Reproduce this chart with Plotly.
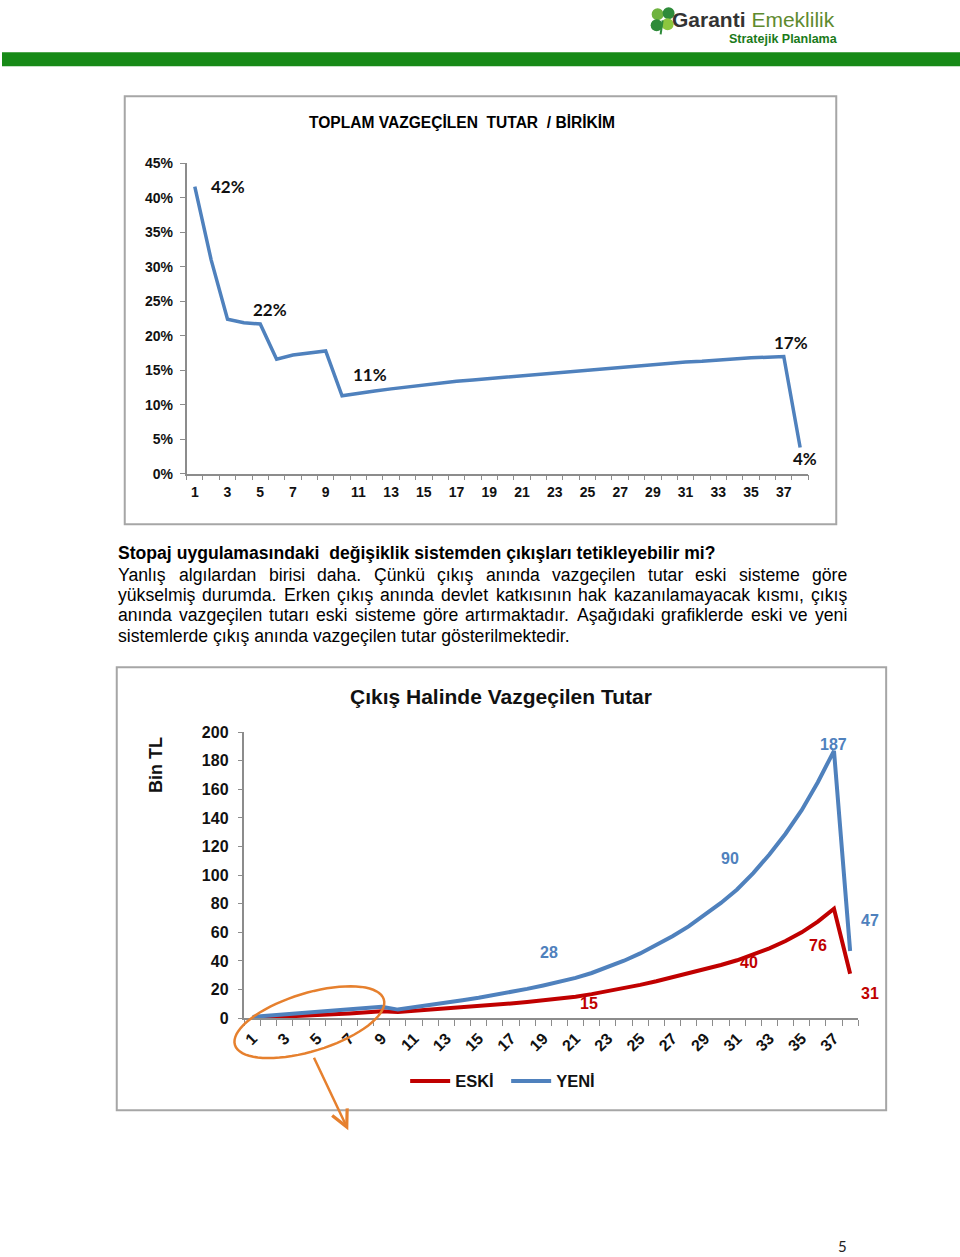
import numpy as np
import plotly.graph_objects as go

W, H = 960, 1257

# ---------------- DATA ----------------
years = list(range(1, 39))

# Chart 1: TOPLAM VAZGEÇİLEN TUTAR / BİRİKİM (percent)
ratio_pct = [41.6, 31.0, 22.4, 21.9, 21.7, 16.6, 17.2, 17.5, 17.8, 11.3,
             11.7, 12.0, 12.3, 12.6, 12.8, 13.1, 13.4, 13.6, 13.8, 14.0,
             14.3, 14.5, 14.7, 14.9, 15.0, 15.3, 15.5, 15.7, 15.9, 16.0,
             16.2, 16.3, 16.5, 16.7, 16.8, 16.9, 17.0, 3.8]
ratio_label_years = [1, 5, 10, 37, 38]
ratio_label_texts = ["42%", "22%", "11%", "17%", "4%"]
y1_tick_values = [0, 5, 10, 15, 20, 25, 30, 35, 40, 45]
x_tick_values = list(range(1, 38, 2))

# Chart 2: Çıkış Halinde Vazgeçilen Tutar (Bin TL)
eski = [0.1, 0.5, 0.9, 1.5, 2.1, 2.7, 3.3, 4.0, 4.9, 4.4,
        5.2, 6.0, 6.6, 7.4, 8.2, 9.2, 10.3, 11.3, 12.3, 13.6,
        15.0, 16.8, 18.8, 21.0, 23.3, 25.8, 28.5, 31.3, 34.2, 37.2,
        40.5, 44.3, 48.8, 54.0, 60.0, 67.5, 76.5, 31.0]
yeni = [0.9, 1.7, 2.6, 3.5, 4.4, 4.9, 5.6, 6.6, 7.9, 6.0,
        7.8, 9.5, 11.0, 12.6, 14.3, 16.2, 18.3, 20.5, 22.9, 25.4,
        28.2, 31.6, 35.6, 40.2, 45.3, 51.0, 57.3, 64.2, 72.0, 80.6,
        90.0, 101.5, 114.5, 129.0, 145.5, 165.0, 187.0, 47.0]
eski_label_years = [21, 31, 37, 38]
eski_label_texts = ["15", "40", "76", "31"]
yeni_label_years = [21, 31, 37, 38]
yeni_label_texts = ["28", "90", "187", "47"]
y2_tick_values = list(range(0, 201, 20))

heading = "Stopaj uygulamasındaki  değişiklik sistemden çıkışları tetikleyebilir mi?"
para_lines = [
    "Yanlış algılardan birisi daha. Çünkü çıkış anında vazgeçilen tutar eski sisteme göre",
    "yükselmiş durumda. Erken çıkış anında devlet katkısının hak kazanılamayacak kısmı, çıkış",
    "anında vazgeçilen tutarı eski sisteme göre artırmaktadır. Aşağıdaki grafiklerde eski ve yeni",
    "sistemlerde çıkış anında vazgeçilen tutar gösterilmektedir.",
]

# ---------------- HELPERS ----------------
# measured capture transform: screen_y = 0.9866 * figure_y + 7.7
SY, OY = 0.9866, 7.7


def px(x):
    return x / W


def py(y):
    return 1 - ((y - OY) / SY) / H


REG = dict(zip(" !%,./?0123456789", [278, 278, 889, 278, 278, 278, 556] + [556] * 10))
REG.update({"A": 667, "B": 667, "C": 722, "Ç": 722, "D": 722, "E": 667, "F": 611, "G": 778,
            "H": 722, "I": 278, "İ": 278, "J": 500, "K": 667, "L": 556, "M": 833, "N": 722,
            "O": 778, "P": 667, "R": 722, "S": 667, "Ş": 667, "T": 611, "U": 722, "V": 667,
            "Y": 667, "Z": 611,
            "a": 556, "b": 556, "c": 500, "ç": 500, "d": 556, "e": 556, "f": 278, "g": 556,
            "ğ": 556, "h": 556, "i": 222, "ı": 278, "j": 222, "k": 500, "l": 222, "m": 833,
            "n": 556, "o": 556, "ö": 556, "p": 556, "r": 333, "s": 500, "ş": 500, "t": 278,
            "u": 556, "ü": 556, "v": 500, "y": 500, "z": 500, "w": 722, "x": 500})
BOLD = dict(REG)
BOLD.update({"?": 611, "A": 722, "B": 722, "K": 722, "L": 611,
             "a": 556, "b": 611, "c": 556, "ç": 556, "d": 611, "e": 556, "f": 333, "g": 611,
             "ğ": 611, "h": 611, "i": 278, "ı": 278, "j": 278, "k": 556, "l": 278, "m": 889,
             "n": 611, "o": 611, "ö": 611, "p": 611, "r": 389, "s": 556, "ş": 556, "t": 333,
             "u": 611, "ü": 611, "v": 556, "y": 556, "z": 500, "w": 778, "x": 556})


def tw(s, size, bold=False):
    t = BOLD if bold else REG
    return sum(t.get(c, 556) for c in s) * size / 1000.0


def fit(s, width, bold=False):
    return width / tw(s, 1000, bold) * 1000


SANS = "Liberation Sans, Arial, sans-serif"
BLUE = "#4F81BD"
RED = "#C00000"
AXIS = "#8C8C8C"
ORANGE = "#E6802E"

fig = go.Figure()

# ---------------- CHART 1 ----------------
fig.add_trace(go.Scatter(x=years, y=ratio_pct, mode="lines", xaxis="x", yaxis="y",
                         line=dict(color=BLUE, width=3.5), showlegend=False, hoverinfo="skip"))

# ---------------- CHART 2 ----------------
fig.add_trace(go.Scatter(x=years, y=eski, mode="lines", name="ESKİ", xaxis="x2", yaxis="y2",
                         line=dict(color=RED, width=4)))
fig.add_trace(go.Scatter(x=years, y=yeni, mode="lines", name="YENİ", xaxis="x2", yaxis="y2",
                         line=dict(color=BLUE, width=4)))

tickfont1 = dict(family=SANS, size=14, color="#111", weight="bold")
tickfont2 = dict(family=SANS, size=16, color="#111", weight="bold")

layout = dict(
    width=W, height=H, margin=dict(l=0, r=0, t=0, b=0),
    paper_bgcolor="white", plot_bgcolor="rgba(0,0,0,0)",
    xaxis=dict(domain=[px(185), px(808)], range=[0.5, 38.5], anchor="y",
               tickmode="array", tickvals=x_tick_values, ticktext=[str(v) for v in x_tick_values],
               ticks="", showline=True, linecolor=AXIS, linewidth=1.5, showgrid=False, zeroline=False,
               minor=dict(tick0=0.5, dtick=1, ticks="outside", ticklen=5, tickcolor=AXIS, tickwidth=1),
               tickfont=tickfont1, ticklabelstandoff=5),
    yaxis=dict(domain=[py(473.5), py(163)], range=[0, 45], anchor="x",
               tickmode="array", tickvals=y1_tick_values, ticktext=[f"{v}%" for v in y1_tick_values],
               ticks="outside", ticklen=5, tickcolor=AXIS, showline=True, linecolor=AXIS, linewidth=1.5,
               showgrid=False, zeroline=False, tickfont=tickfont1, ticklabelstandoff=4),
    xaxis2=dict(domain=[px(243), px(858)], range=[0.5, 38.5], anchor="y2",
                tickmode="array", tickvals=x_tick_values, ticktext=[str(v) for v in x_tick_values],
                ticks="", showline=True, linecolor=AXIS, linewidth=1.5, showgrid=False, zeroline=False,
                minor=dict(tick0=0.5, dtick=1, ticks="outside", ticklen=6, tickcolor=AXIS, tickwidth=1),
                tickfont=dict(family=SANS, size=16, color="#111", weight="bold"), tickangle=-45,
                ticklabelstandoff=3),
    yaxis2=dict(domain=[py(1018), py(732)], range=[0, 200], anchor="x2",
                tickmode="array", tickvals=y2_tick_values,
                ticks="outside", ticklen=5, tickcolor=AXIS, showline=True, linecolor=AXIS, linewidth=1.5,
                showgrid=False, zeroline=False, tickfont=tickfont2, ticklabelstandoff=6),
    showlegend=True,
    legend=dict(orientation="h", x=px(404), xanchor="left", y=py(1081), yanchor="middle",
                font=dict(family=SANS, size=16.5, color="#111", weight="bold"),
                bgcolor="rgba(0,0,0,0)", itemwidth=40, tracegroupgap=0,
                entrywidth=46, entrywidthmode="pixels"),
)
fig.update_layout(**layout)

shapes = []
# green header bar
shapes.append(dict(type="rect", xref="paper", yref="paper", x0=0, x1=1, y0=py(66), y1=py(52),
                   fillcolor="#178A17", line=dict(width=0)))
# chart frames
for (x0, y0, x1, y1) in [(123, 96, 836, 524), (115, 667, 886, 1110)]:
    shapes.append(dict(type="rect", xref="paper", yref="paper", x0=px(x0), x1=px(x1),
                       y0=py(y1), y1=py(y0), line=dict(color="#A6A6A6", width=2),
                       fillcolor="rgba(0,0,0,0)", layer="below"))
# clover logo
for (cx, cy, r, col) in [(657, 14, 6, "#6FB33F"), (668, 13, 6, "#2E8B3A"),
                         (656, 25, 6, "#2E8B3A"), (667, 24, 6, "#8CC63F")]:
    shapes.append(dict(type="circle", xref="paper", yref="paper", x0=px(cx - r), x1=px(cx + r),
                       y0=py(cy + r), y1=py(cy - r), fillcolor=col, line=dict(width=0)))
shapes.append(dict(type="line", xref="paper", yref="paper", x0=px(662), y0=py(20), x1=px(660), y1=py(34),
                   line=dict(color="#2E8B3A", width=2)))
# orange ellipse
t = np.linspace(0, 2 * np.pi, 73)
a_, b_, th = 78, 29, np.deg2rad(-17)
ex = 308 + a_ * np.cos(t) * np.cos(th) - b_ * np.sin(t) * np.sin(th)
ey = 1022 + a_ * np.cos(t) * np.sin(th) + b_ * np.sin(t) * np.cos(th)
path = "M " + " L ".join(f"{px(xx):.5f},{py(yy):.5f}" for xx, yy in zip(ex, ey)) + " Z"
shapes.append(dict(type="path", xref="paper", yref="paper", path=path,
                   line=dict(color=ORANGE, width=2.5), fillcolor="rgba(0,0,0,0)"))
fig.update_layout(shapes=shapes)

ann = []
# header texts
ann.append(dict(x=px(837), y=py(19), xref="paper", yref="paper", xanchor="right", yanchor="middle",
                text="<span style='color:#333333'><b>Garanti</b></span> <span style='color:#5E8A2E'>Emeklilik</span>",
                showarrow=False, font=dict(family=SANS, size=21, color="#3A3A3A")))
ann.append(dict(x=px(840), y=py(39), xref="paper", yref="paper", xanchor="right", yanchor="middle",
                text="Stratejik Planlama", showarrow=False,
                font=dict(family=SANS, size=12.5, color="#1A7A1A", weight="bold")))

# chart 1 title
t1 = "TOPLAM VAZGEÇİLEN\u00a0\u00a0TUTAR\u00a0\u00a0/ BİRİKİM"
ann.append(dict(x=px(461), y=py(122), xref="paper", yref="paper", xanchor="center", yanchor="middle",
                text=t1, showarrow=False,
                font=dict(family=SANS, size=fit(t1.replace("\u00a0", " "), 309, True), color="#000",
                          weight="bold")))

# chart 1 data labels
off1 = {1: (33, 0), 5: (10, 14), 10: (28, 21), 37: (7, 14), 38: (5, -11)}
for yr, txt in zip(ratio_label_years, ratio_label_texts):
    dx, dy = off1[yr]
    ann.append(dict(x=yr, y=ratio_pct[yr - 1], xref="x", yref="y", text=txt, showarrow=False,
                    xshift=dx, yshift=dy / SY, xanchor="center", yanchor="middle",
                    font=dict(family="Lato, Open Sans, sans-serif", size=17, color="#111", weight="bold")))

# chart 2 title and axis title
t2 = "Çıkış Halinde Vazgeçilen Tutar"
ann.append(dict(x=px(500), y=py(696), xref="paper", yref="paper", xanchor="center", yanchor="middle",
                text=t2, showarrow=False,
                font=dict(family=SANS, size=21, color="#111", weight="bold")))
ann.append(dict(x=px(155), y=py(765), xref="paper", yref="paper", xanchor="center", yanchor="middle",
                text="Bin TL", textangle=-90, showarrow=False,
                font=dict(family=SANS, size=18, color="#111", weight="bold")))

# chart 2 data labels
off_e = {21: (13, -7), 31: (12, -2), 37: (-16, -36), 38: (20, -19)}
off_y = {21: (-27, 25), 31: (-7, 31), 37: (0, 6), 38: (20, 30)}
for yr, txt in zip(eski_label_years, eski_label_texts):
    dx, dy = off_e[yr]
    ann.append(dict(x=yr, y=eski[yr - 1], xref="x2", yref="y2", text=txt, showarrow=False,
                    xshift=dx, yshift=dy / SY, font=dict(family=SANS, size=16, color=RED, weight="bold")))
for yr, txt in zip(yeni_label_years, yeni_label_texts):
    dx, dy = off_y[yr]
    ann.append(dict(x=yr, y=yeni[yr - 1], xref="x2", yref="y2", text=txt, showarrow=False,
                    xshift=dx, yshift=dy / SY, font=dict(family=SANS, size=16, color=BLUE, weight="bold")))

# arrow from ellipse
ann.append(dict(x=px(347), y=py(1130), xref="paper", yref="paper", text="", showarrow=True,
                ax=-35, ay=-73 / SY, arrowhead=5, arrowsize=1.3, arrowwidth=2.5, arrowcolor=ORANGE))

# body text
hs = fit(heading, 598, True)
ann.append(dict(x=px(114), y=py(553), xref="paper", yref="paper", xanchor="left", yanchor="middle",
                text=heading.replace("  ", "\u00a0 "), showarrow=False,
                font=dict(family=SANS, size=hs, color="#000", weight="bold")))
ps = fit(para_lines[3], 453)
line_y = [575, 595, 615, 636]
for i, line in enumerate(para_lines):
    if i < 3:
        words = line.split()
        ws = [tw(w, ps) for w in words]
        gap = (731 - sum(ws)) / (len(words) - 1)
        xcur = 114
        for w, wd in zip(words, ws):
            ann.append(dict(x=px(xcur), y=py(line_y[i]), xref="paper", yref="paper", xanchor="left",
                            yanchor="middle", text=w, showarrow=False,
                            font=dict(family=SANS, size=ps, color="#000")))
            xcur += wd + gap
    else:
        ann.append(dict(x=px(114), y=py(line_y[i]), xref="paper", yref="paper", xanchor="left",
                        yanchor="middle", text=line, showarrow=False,
                        font=dict(family=SANS, size=ps, color="#000")))

# page number
ann.append(dict(x=px(842), y=py(1246), xref="paper", yref="paper", xanchor="center", yanchor="middle",
                text="5", showarrow=False, font=dict(family="Lato, Open Sans, sans-serif", size=15, color="#222")))

fig.update_layout(annotations=ann)
fig.write_html("out.html", config={"displayModeBar": False},
               post_script="var s=document.documentElement.style;s.margin='0';s.padding='0';s.overflow='hidden';"
                           "var b=document.body.style;b.margin='0';b.padding='0';b.overflow='hidden';")
